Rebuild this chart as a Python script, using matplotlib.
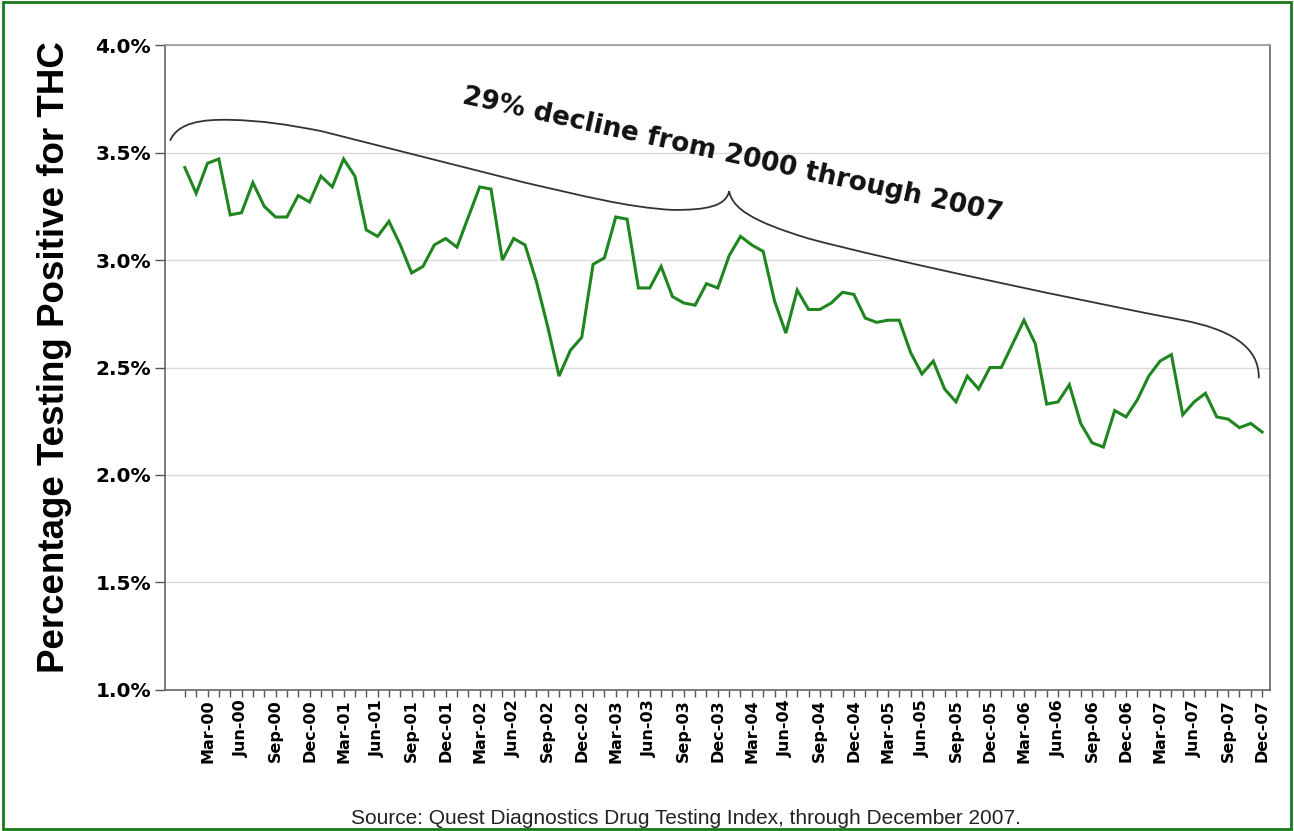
import matplotlib.pyplot as plt
import matplotlib.patches as patches
from matplotlib.path import Path
import numpy as np

# monthly share testing positive for THC, Jan-2000 .. Dec-2007 (percent)
thc_pct = [
  3.43, 3.31, 3.45, 3.47, 3.21, 3.22, 3.36, 3.25, 3.20, 3.20, 3.30, 3.27,
  3.39, 3.34, 3.47, 3.39, 3.14, 3.11, 3.18, 3.07, 2.94, 2.97, 3.07, 3.10,
  3.06, 3.20, 3.34, 3.33, 3.00, 3.10, 3.07, 2.90, 2.69, 2.46, 2.58, 2.64,
  2.98, 3.01, 3.20, 3.19, 2.87, 2.87, 2.97, 2.83, 2.80, 2.79, 2.89, 2.87,
  3.02, 3.11, 3.07, 3.04, 2.81, 2.66, 2.86, 2.77, 2.77, 2.80, 2.85, 2.84,
  2.73, 2.71, 2.72, 2.72, 2.57, 2.47, 2.53, 2.40, 2.34, 2.46, 2.40, 2.50,
  2.50, 2.61, 2.72, 2.61, 2.33, 2.34, 2.42, 2.24, 2.15, 2.13, 2.30, 2.27,
  2.35, 2.46, 2.53, 2.56, 2.28, 2.34, 2.38, 2.27, 2.26, 2.22, 2.24, 2.20,
]
month_names = ['Jan', 'Feb', 'Mar', 'Apr', 'May', 'Jun',
               'Jul', 'Aug', 'Sep', 'Oct', 'Nov', 'Dec']
years = ['00', '01', '02', '03', '04', '05', '06', '07']
y_ticks = [1.0, 1.5, 2.0, 2.5, 3.0, 3.5, 4.0]

note = "29% decline from 2000 through 2007"
source = "Source: Quest Diagnostics Drug Testing Index, through December 2007."

labels = []
for yr in years:
  for m in month_names:
    labels.append(m + "-" + yr)
x = np.arange(len(thc_pct))

fig = plt.figure(figsize=(12.94, 8.31), dpi=100)
ax = fig.add_axes([0.1275, 0.1697, 0.854, 0.7761])

ax.plot(x, thc_pct, color="#1f851f", lw=2.2, solid_joinstyle="miter", zorder=3)

ax.set_xlim(-1.75, 95.7)
ax.set_ylim(1.0, 4.0)
ax.set_yticks(y_ticks)
ax.set_yticklabels(["%.1f%%" % v for v in y_ticks], fontsize=14.5, fontweight="bold")
ax.yaxis.grid(True, color="#d9d9d9", lw=1.0)
ax.set_axisbelow(True)

ax.set_xticks(x)
ax.set_xticklabels([lab if lab[:3] in ("Mar", "Jun", "Sep", "Dec") else "" for lab in labels],
                   rotation=90, fontsize=11.5, fontweight="bold")
ax.tick_params(axis="x", length=5, width=1, color="#555555", pad=2)
ax.tick_params(axis="y", length=7, width=1, color="#555555", pad=3)

for side in ["left", "bottom", "right"]:
  ax.spines[side].set_color("#666666")
  ax.spines[side].set_linewidth(1.2)
ax.spines["top"].set_color("#999999")
ax.spines["top"].set_linewidth(1.2)

# curly brace over the whole period
verts = [(-1.3, 3.555), (-0.6, 3.64), (1.5, 3.655), (4, 3.652),
         (7, 3.648), (9, 3.63), (12, 3.60),
         (30, 3.36),
         (35, 3.30), (39, 3.245), (43, 3.233),
         (46, 3.232), (47.7, 3.25), (48, 3.32),
         (48.3, 3.24), (50, 3.18), (55, 3.10),
         (62, 3.00), (80, 2.80), (88, 2.72),
         (92, 2.68), (94.8, 2.60), (94.7, 2.45)]
codes = [Path.MOVETO] + [Path.CURVE4] * 6 + [Path.LINETO] + [Path.CURVE4] * 15
ax.add_patch(patches.PathPatch(Path(verts, codes), fill=False, ec="#333333", lw=1.3, zorder=4))

ax.text(48.3, 3.485, note, rotation=-12.4, rotation_mode="anchor", ha="center", va="center",
        fontsize=19, fontweight="bold", color="#111111")

fig.text(55 / 1294, 1 - 357 / 831, "Percentage Testing Positive for THC", rotation=90,
         ha="center", va="center", fontsize=26.5, fontweight="bold", family="Liberation Sans")
fig.text(686 / 1294, 1 - 818 / 831, source, ha="center", va="center",
         fontsize=15, family="Liberation Sans", color="#222222")

fig.patches.append(patches.Rectangle((0.002, 0.003), 0.996, 0.994, transform=fig.transFigure,
                                     fill=False, ec="#1a7a1a", lw=2))

plt.savefig("out.png", dpi=100)
